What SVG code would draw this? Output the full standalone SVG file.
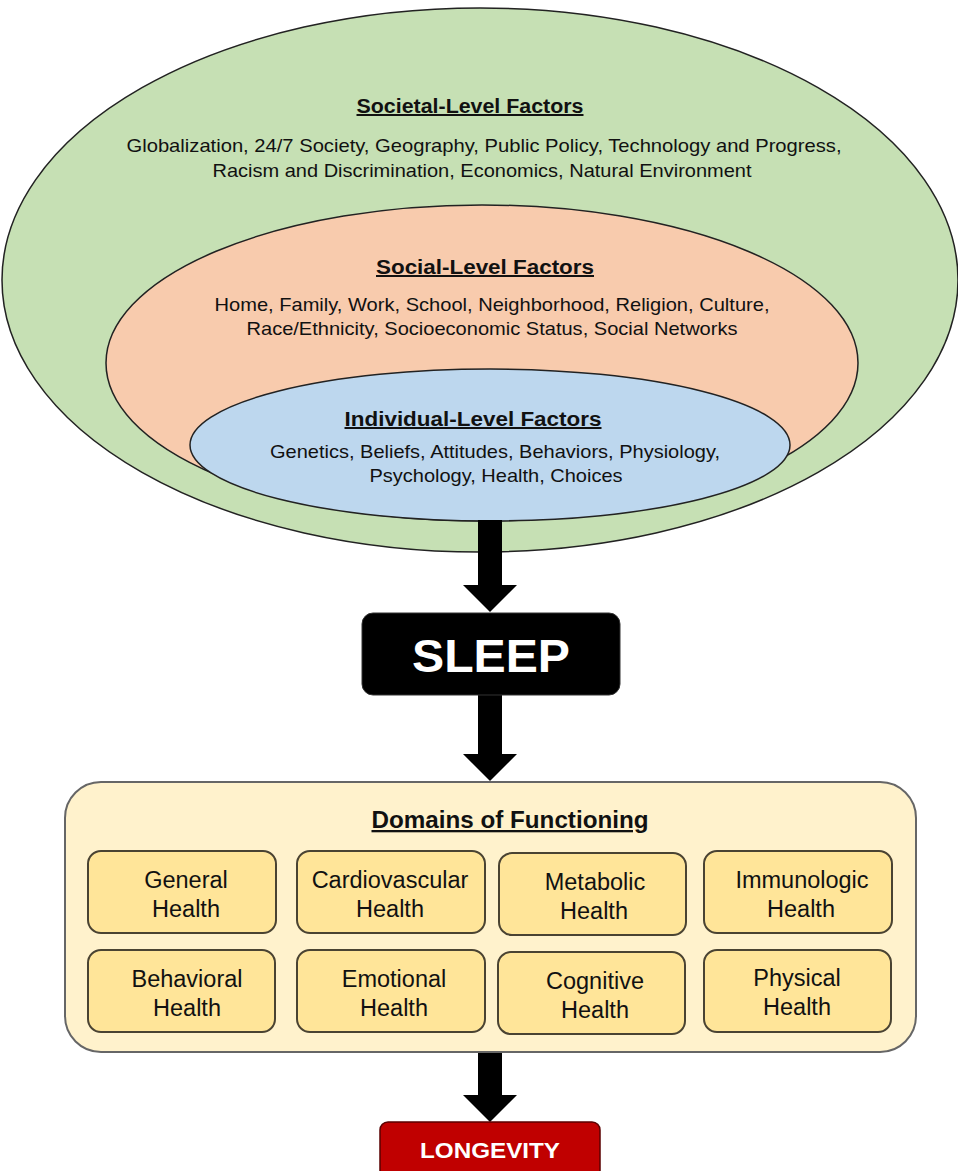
<svg xmlns="http://www.w3.org/2000/svg" width="958" height="1171" viewBox="0 0 958 1171">
<style>
text{font-family:"Liberation Sans",Arial,sans-serif;fill:#111;text-anchor:middle}
.h{font-weight:bold;font-size:20px;text-decoration:underline}
.b{font-size:18.5px}
.dh{font-weight:bold;font-size:23px;text-decoration:underline}
.d{font-size:23.5px}
.box{fill:#ffe599;stroke:#4a4332;stroke-width:2}
.ell{stroke:#222;stroke-width:1.5}
</style>
<g id="societal">
<ellipse class="ell" cx="480" cy="280" rx="478" ry="272" fill="#c6e0b4"/>
<text class="h" x="470" y="113" textLength="227" lengthAdjust="spacingAndGlyphs">Societal-Level Factors</text>
<text class="b" x="484" y="152" textLength="715" lengthAdjust="spacingAndGlyphs">Globalization, 24/7 Society, Geography, Public Policy, Technology and Progress,</text>
<text class="b" x="482" y="177" textLength="539" lengthAdjust="spacingAndGlyphs">Racism and Discrimination, Economics, Natural Environment</text>
</g>
<g id="social">
<ellipse class="ell" cx="482" cy="363" rx="376" ry="158" fill="#f8cbad"/>
<text class="h" x="485" y="274" textLength="218" lengthAdjust="spacingAndGlyphs">Social-Level Factors</text>
<text class="b" x="492" y="311" textLength="555" lengthAdjust="spacingAndGlyphs">Home, Family, Work, School, Neighborhood, Religion, Culture,</text>
<text class="b" x="492" y="335" textLength="491" lengthAdjust="spacingAndGlyphs">Race/Ethnicity, Socioeconomic Status, Social Networks</text>
</g>
<g id="individual">
<ellipse class="ell" cx="490" cy="445" rx="300" ry="76" fill="#bdd7ee"/>
<text class="h" x="473" y="426" textLength="257" lengthAdjust="spacingAndGlyphs">Individual-Level Factors</text>
<text class="b" x="495" y="458" textLength="450" lengthAdjust="spacingAndGlyphs">Genetics, Beliefs, Attitudes, Behaviors, Physiology,</text>
<text class="b" x="496" y="482" textLength="253" lengthAdjust="spacingAndGlyphs">Psychology, Health, Choices</text>
</g>
<g id="connectors">
<path d="M478,520 H502 V585 H517 L490,612 L463,585 H478 Z" fill="#000"/>
<path d="M478,695 H502 V754 H517 L490,781 L463,754 H478 Z" fill="#000"/>
<path d="M478,1052 H502 V1095 H517 L490,1122 L463,1095 H478 Z" fill="#000"/>
</g>
<g id="sleep">
<rect x="362" y="613" width="258" height="82" rx="11" fill="#000" stroke="#333" stroke-width="1"/>
<text x="491" y="672" textLength="158" lengthAdjust="spacingAndGlyphs" style="font-weight:bold;font-size:47px;fill:#fff">SLEEP</text>
</g>
<g id="domains">
<rect x="65" y="782" width="851" height="270" rx="36" fill="#fff2cc" stroke="#666" stroke-width="2"/>
<text class="dh" x="510" y="828" textLength="277" lengthAdjust="spacingAndGlyphs">Domains of Functioning</text>
</g>
<g id="general"><rect class="box" x="88" y="851" width="188" height="82" rx="13"/><text class="d" x="186" y="888">General</text><text class="d" x="186" y="917">Health</text></g>
<g id="cardiovascular"><rect class="box" x="297" y="851" width="188" height="82" rx="13"/><text class="d" x="390" y="888">Cardiovascular</text><text class="d" x="390" y="917">Health</text></g>
<g id="metabolic"><rect class="box" x="499" y="853" width="187" height="82" rx="13"/><text class="d" x="595" y="890">Metabolic</text><text class="d" x="594" y="919">Health</text></g>
<g id="immunologic"><rect class="box" x="704" y="851" width="188" height="82" rx="13"/><text class="d" x="802" y="888">Immunologic</text><text class="d" x="801" y="917">Health</text></g>
<g id="behavioral"><rect class="box" x="88" y="950" width="187" height="82" rx="13"/><text class="d" x="187" y="987">Behavioral</text><text class="d" x="187" y="1016">Health</text></g>
<g id="emotional"><rect class="box" x="297" y="950" width="188" height="82" rx="13"/><text class="d" x="394" y="987">Emotional</text><text class="d" x="394" y="1016">Health</text></g>
<g id="cognitive"><rect class="box" x="498" y="952" width="187" height="82" rx="13"/><text class="d" x="595" y="989">Cognitive</text><text class="d" x="595" y="1018">Health</text></g>
<g id="physical"><rect class="box" x="704" y="950" width="187" height="82" rx="13"/><text class="d" x="797" y="986">Physical</text><text class="d" x="797" y="1015">Health</text></g>
<g id="longevity">
<rect x="380" y="1122" width="220" height="60" rx="8" fill="#c00000" stroke="#5a0000" stroke-width="1.5"/>
<text x="490" y="1158" textLength="140" lengthAdjust="spacingAndGlyphs" style="font-weight:bold;font-size:22px;fill:#fff">LONGEVITY</text>
</g>
</svg>
